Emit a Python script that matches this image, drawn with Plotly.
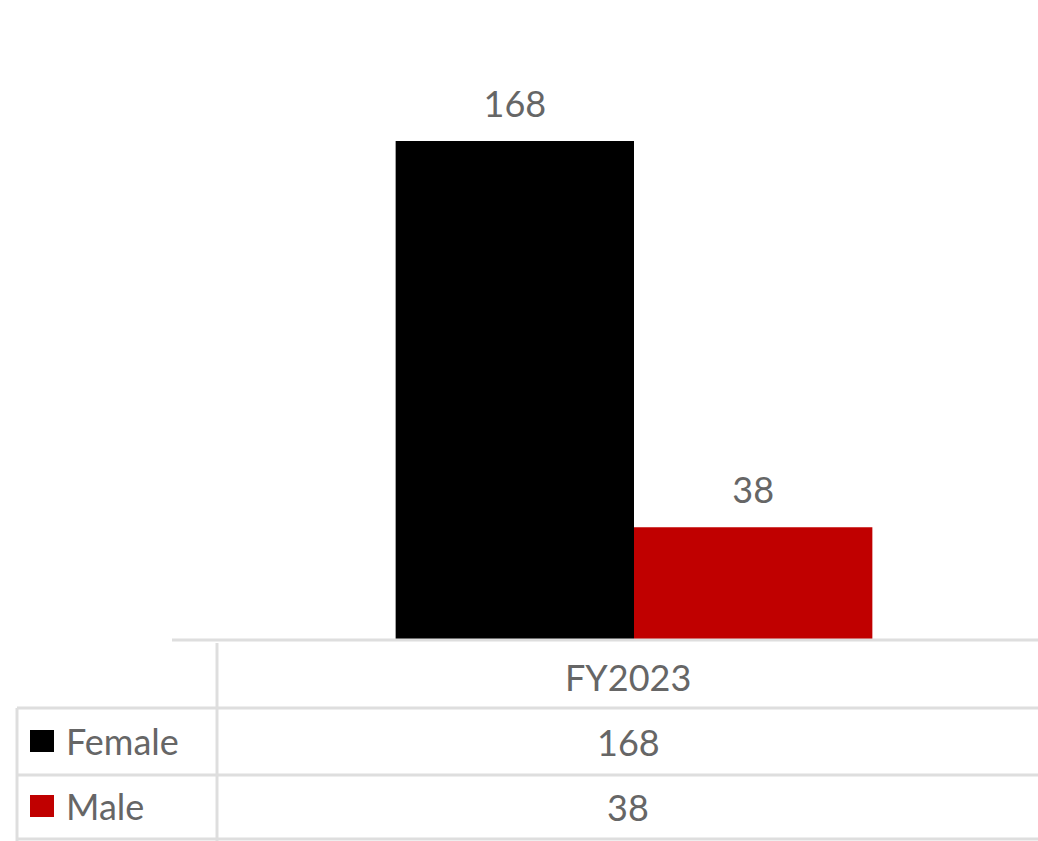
import plotly.graph_objects as go

categories = ["FY2023"]
series_names = ["Female", "Male"]
female_values = [168]
male_values = [38]
series_values = [female_values, male_values]
colors = ["#000000", "#C00000"]

W, H = 1038, 841
FONT = "Lato"
TXT = "#666666"
GRID = "#dedede"
FS = 36

def py(p):  # pixel y -> paper y
    return (H - p) / H

def px(p):
    return p / W

fig = go.Figure()
for name, vals, col in zip(series_names, series_values, colors):
    fig.add_trace(go.Bar(
        x=categories, y=vals, name=name, marker_color=col, marker_line_width=0,
        text=[f"<span style='font-size:{FS}px'>{v}</span><br> " for v in vals],
        textposition="outside", cliponaxis=False,
        textfont=dict(family=FONT, size=14, color=TXT),
        showlegend=False,
    ))

shapes = []
annotations = []
# axis line
shapes.append(dict(type="line", xref="paper", yref="paper", x0=px(172), x1=1, y0=py(640), y1=py(640),
                   line=dict(color=GRID, width=3)))
# table vertical line
shapes.append(dict(type="line", xref="paper", yref="paper", x0=px(217), x1=px(217), y0=py(643), y1=0,
                   line=dict(color=GRID, width=3)))
# left border of legend column
shapes.append(dict(type="line", xref="paper", yref="paper", x0=px(17), x1=px(17), y0=py(708), y1=0,
                   line=dict(color=GRID, width=3)))
# horizontal row lines
for yy in [708, 775, 839]:
    shapes.append(dict(type="line", xref="paper", yref="paper", x0=px(17), x1=1, y0=py(yy), y1=py(yy),
                       line=dict(color=GRID, width=3)))

# header
cat_x = px(628)
annotations.append(dict(xref="paper", yref="paper", x=cat_x, y=py(677), text=categories[0], showarrow=False,
                        font=dict(family=FONT, size=FS, color=TXT), xanchor="center", yanchor="middle"))
row_y = [741, 806]
for i, (name, vals, col) in enumerate(zip(series_names, series_values, colors)):
    yc = row_y[i]
    shapes.append(dict(type="rect", xref="paper", yref="paper", x0=px(30), x1=px(54),
                       y0=py(yc + 11), y1=py(yc - 11), fillcolor=col, line=dict(width=0)))
    annotations.append(dict(xref="paper", yref="paper", x=px(64), y=py(yc), text=name, showarrow=False,
                            font=dict(family=FONT, size=FS, color=TXT), xanchor="left", yanchor="middle"))
    annotations.append(dict(xref="paper", yref="paper", x=cat_x, y=py(yc + 1), text=str(vals[0]), showarrow=False,
                            font=dict(family=FONT, size=FS, color=TXT), xanchor="center", yanchor="middle"))

fig.update_layout(
    width=W, height=H, margin=dict(l=0, r=0, t=0, b=0),
    paper_bgcolor="white", plot_bgcolor="white",
    barmode="group", bargap=0.41, bargroupgap=0,
    xaxis=dict(domain=[px(230), 1], showticklabels=False, showgrid=False, zeroline=False, showline=False),
    yaxis=dict(domain=[py(640), py(46)], range=[0, 200], showticklabels=False, showgrid=False,
               zeroline=False, showline=False),
    shapes=shapes, annotations=annotations,
)
fig.write_html("out.html")
